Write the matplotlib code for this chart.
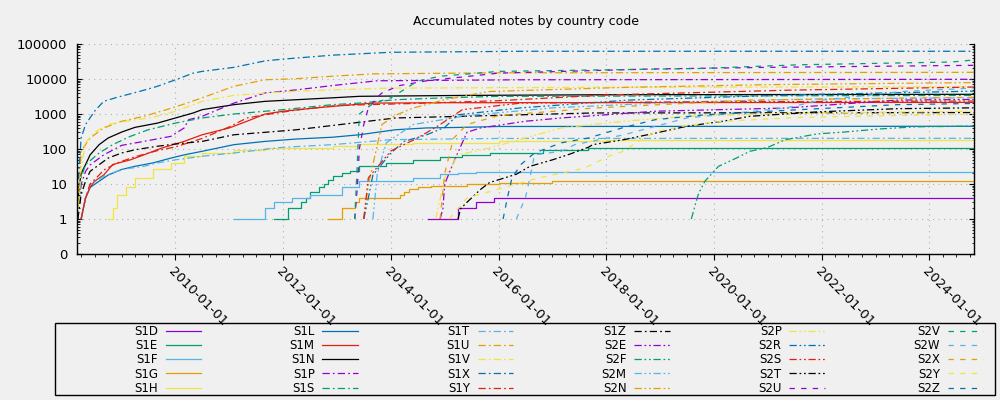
import matplotlib
matplotlib.use("Agg")
import matplotlib.pyplot as plt
import matplotlib.dates as mdates
from matplotlib.ticker import FixedLocator, LogLocator, NullFormatter
from matplotlib.patches import Rectangle
import pandas as pd

# accumulated notes, (date, total) at each step
S1D = [("2014-09-10", 1), ("2015-04", 2), ("2015-08", 3), ("2015-12", 4), ("2024-10-28", 4)]
S1E = [("2011-11", 1), ("2012-02", 2), ("2012-05", 3), ("2012-06", 4), ("2012-07", 6), ("2012-09", 8),
       ("2012-10", 10), ("2012-11", 13), ("2012-12", 17), ("2013-02", 20), ("2013-04", 23), ("2013-06", 32),
       ("2013-12", 40), ("2014-06", 49), ("2014-12", 58), ("2015-05", 68), ("2015-11", 77), ("2016-11", 95),
       ("2017-09", 104), ("2024-10-28", 104)]
S1F = [("2011-02", 1), ("2011-09", 2), ("2011-11", 3), ("2012-03", 4), ("2012-07", 5), ("2013-02", 8),
       ("2013-06", 12), ("2014-06", 15), ("2014-12", 19), ("2015-04", 21), ("2015-08", 22), ("2024-10-28", 22)]
S1G = [("2012-11", 1), ("2013-02", 2), ("2013-05", 3), ("2013-06", 4), ("2014-03", 5), ("2014-04", 6),
       ("2014-05", 7), ("2014-07", 8), ("2014-10", 9), ("2015-06", 10), ("2016-01", 11), ("2017-01", 12),
       ("2024-10-28", 12)]
S1H = [("2008-10", 1), ("2008-11", 2), ("2008-12", 5), ("2009-02", 8), ("2009-04", 15), ("2009-08", 26),
       ("2009-12", 40), ("2010-03", 62), ("2010-07", 77), ("2011-02", 95), ("2011-09", 107), ("2012-12", 120),
       ("2013-06", 135), ("2014-06", 150), ("2016-01", 165), ("2018-01", 177), ("2024-10-28", 177)]
S1L = [("2008-04", 1), ("2008-05", 4), ("2008-06", 8), ("2008-08", 12), ("2008-10", 18), ("2009-01", 26),
       ("2009-04", 32), ("2009-08", 40), ("2009-12", 55), ("2010-03", 68), ("2010-07", 86), ("2011-02", 133),
       ("2011-09", 165), ("2012-04", 193), ("2012-12", 217), ("2013-06", 255), ("2014-02", 355),
       ("2014-09", 400), ("2015-05", 415), ("2016-01", 440), ("2024-10-28", 446)]
S1M = [("2008-04", 1), ("2008-05", 4), ("2008-06", 8), ("2008-07", 12), ("2008-09", 18), ("2008-11", 36),
       ("2009-03", 49), ("2009-06", 68), ("2009-10", 107), ("2010-03", 165), ("2010-07", 255), ("2011-01", 400),
       ("2011-05", 620), ("2011-09", 1000), ("2012-01", 1200), ("2012-08", 1480), ("2012-12", 1650),
       ("2013-09", 2050), ("2015-01", 2100), ("2024-10-28", 2150)]
S1N = [("2008-03-05", 2), ("2008-03-20", 9), ("2008-04", 20), ("2008-05", 36), ("2008-06", 68), ("2008-08", 133),
       ("2008-10", 206), ("2009-01", 305), ("2009-04", 415), ("2009-09", 550), ("2010-01", 770), ("2010-05", 1070),
       ("2010-07", 1330), ("2011-02", 1850), ("2011-09", 2300), ("2012-04", 2560), ("2012-12", 2900),
       ("2013-06", 3200), ("2015-06", 3400), ("2018-01", 3550), ("2024-10-28", 3650)]
S1P = [("2008-03-10", 1), ("2008-04", 9.5), ("2008-05", 23), ("2008-06", 35), ("2008-09", 68), ("2009-01", 127),
       ("2009-06", 165), ("2009-12", 230), ("2010-03", 400), ("2010-04", 690), ("2010-07", 860), ("2011-02", 2050),
       ("2011-09", 4000), ("2012-04", 4900), ("2012-12", 6500), ("2013-10", 8900), ("2016-06", 9500),
       ("2024-10-28", 9800)]
S1S = [("2008-03-10", 1), ("2008-04", 15), ("2008-05", 36), ("2008-08", 77), ("2008-11", 133), ("2009-03", 230),
       ("2009-07", 355), ("2010-01", 550), ("2010-07", 770), ("2011-02", 1000), ("2012-01", 1330), ("2012-12", 1850),
       ("2013-06", 2050), ("2014-02", 2560), ("2015-01", 2900), ("2016-01", 3200), ("2024-10-28", 3400)]
S1T = [("2008-04", 1), ("2008-05", 4), ("2008-06", 9.5), ("2008-09", 16.6), ("2009-01", 26), ("2009-06", 32),
       ("2009-09", 40), ("2010-01", 49), ("2010-07", 62), ("2011-02", 77), ("2012-01", 112), ("2012-12", 133),
       ("2014-01", 185), ("2016-01", 200), ("2024-10-28", 202)]
S1U = [("2008-03-10", 2), ("2008-03-25", 23), ("2008-04", 88), ("2008-06", 206), ("2008-09", 400), ("2009-01", 620),
       ("2009-06", 860), ("2009-11", 1330), ("2010-03", 1930), ("2010-07", 2900), ("2011-02", 6200),
       ("2011-09", 9500), ("2012-04", 10200), ("2012-12", 12000), ("2013-09", 14000), ("2016-01", 15000),
       ("2024-10-28", 15500)]
S1V = [("2008-03-10", 1), ("2008-04", 30), ("2008-05", 150), ("2008-07", 300), ("2008-10", 500), ("2009-03", 650),
       ("2009-08", 800), ("2010-01", 1200), ("2010-07", 2300), ("2011-02", 3400), ("2012-01", 4300),
       ("2012-12", 4900), ("2014-01", 5500), ("2018-01", 5800), ("2024-10-28", 6000)]
S1X = [("2008-03-05", 5), ("2008-03-20", 36), ("2008-04", 206), ("2008-05", 500), ("2008-07", 1200),
       ("2008-09", 2300), ("2008-12", 3000), ("2009-05", 4400), ("2009-09", 6200), ("2010-01", 9500),
       ("2010-05", 14700), ("2010-07", 16500), ("2011-02", 21500), ("2011-09", 33000), ("2012-01", 37000),
       ("2012-12", 48000), ("2014-01", 58000), ("2016-07", 62000), ("2024-10-28", 62000)]
S1Y = [("2008-04", 1), ("2008-05", 4), ("2008-06", 10), ("2008-08", 18), ("2008-09", 25), ("2008-12", 40),
       ("2009-04", 60), ("2009-09", 90), ("2010-01", 115), ("2010-07", 200), ("2011-01", 430), ("2011-05", 770),
       ("2011-09", 950), ("2012-04", 1300), ("2013-01", 1750), ("2014-06", 2000), ("2016-01", 2400),
       ("2018-01", 3500), ("2021-06", 4800), ("2024-10-28", 5900)]
S1Z = [("2008-03-10", 1), ("2008-04", 5), ("2008-05", 12), ("2008-06", 23), ("2008-10", 55), ("2009-01", 77),
       ("2009-04", 95), ("2009-09", 120), ("2010-01", 139), ("2010-07", 165), ("2011-02", 255), ("2011-09", 300),
       ("2012-04", 355), ("2012-12", 470), ("2014-02", 770), ("2015-05", 860), ("2017-10", 1070),
       ("2024-10-28", 1100)]
S2E = [("2014-12", 1), ("2014-12-20", 2), ("2015-01", 10), ("2015-03", 40), ("2015-04", 80), ("2015-06", 300),
       ("2015-09", 400), ("2016-07", 620), ("2017-03", 770), ("2018-12", 1200), ("2021-05", 1480),
       ("2023-06", 2500), ("2024-10-28", 2600)]
S2F = [("2019-08", 1), ("2019-09", 3), ("2019-09-20", 5.5), ("2019-11", 12), ("2020-01", 23), ("2020-02", 32),
       ("2020-06", 55), ("2020-09", 86), ("2021-01", 112), ("2021-05", 185), ("2021-12", 270), ("2022-06", 305),
       ("2023-02", 375), ("2023-10", 430), ("2024-10-28", 450)]
S2M = [("2013-09", 1), ("2013-10", 20), ("2013-12", 150), ("2014-06", 500), ("2015-06", 900), ("2017-01", 1500),
       ("2019-06", 2200), ("2022-01", 2700), ("2024-10-28", 2900)]
S2N = [("2013-07", 1), ("2013-08", 9.5), ("2013-09", 36), ("2013-11", 500), ("2014-02", 920), ("2014-06", 1480),
       ("2015-01", 2560), ("2015-05", 3200), ("2015-11", 4400), ("2018-06", 5800), ("2021-01", 6900),
       ("2024-10-28", 7900)]
S2P = [("2014-11", 1), ("2015-01", 15), ("2015-04", 68), ("2015-11", 107), ("2016-07", 206), ("2017-03", 400),
       ("2018-05", 620), ("2019-07", 860), ("2021-06", 1050), ("2024-10-28", 1200)]
S2R = [("2013-07", 1), ("2013-08", 4), ("2013-09", 18), ("2014-01", 77), ("2014-04", 165), ("2014-09", 255),
       ("2015-01", 415), ("2015-04", 950), ("2016-06", 1500), ("2018-06", 2500), ("2021-06", 3500),
       ("2024-10-28", 4500)]
S2S = [("2013-07", 1), ("2013-08", 15), ("2014-01", 88), ("2014-07", 206), ("2014-12", 500), ("2015-05", 1330),
       ("2016-06", 2050), ("2019-01", 2200), ("2024-10-28", 2350)]
S2T = [("2015-04", 1), ("2015-04-20", 2), ("2015-06", 3), ("2015-09", 7), ("2015-11", 11), ("2016-05", 19),
       ("2016-08", 32), ("2017-01", 49), ("2017-05", 72), ("2017-09", 112), ("2017-10", 133), ("2018-05", 185),
       ("2018-12", 285), ("2019-07", 446), ("2020-03", 620), ("2020-09", 860), ("2021-12", 1150),
       ("2023-06", 1420), ("2024-10-28", 1500)]
S2U = [("2013-05", 1), ("2013-05-20", 10), ("2013-06", 100), ("2013-07", 500), ("2013-08", 1480),
       ("2013-10", 3000), ("2013-11", 4000), ("2014-03", 6500), ("2014-09", 8900), ("2016-01", 14700),
       ("2018-11", 19300), ("2021-01", 21500), ("2024-10-28", 24600)]
S2V = [("2013-05", 1), ("2013-05-15", 20), ("2013-06", 1000), ("2013-09", 2000), ("2014-01", 2900),
       ("2014-04", 5000), ("2014-07", 8700), ("2014-12", 12000), ("2016-01", 16500), ("2019-10", 20000),
       ("2021-08", 25500), ("2024-06", 30600), ("2024-10-28", 35000)]
S2W = [("2016-05", 1), ("2016-07", 4), ("2016-08", 15), ("2016-09", 68), ("2017-03", 86), ("2017-06", 133),
       ("2018-05", 255), ("2019-07", 770), ("2021-05", 1480), ("2022-01", 2500), ("2022-06", 2900),
       ("2023-07", 4400), ("2024-10-28", 5500)]
S2X = [("2014-12", 1), ("2015-01", 20), ("2015-03", 200), ("2015-06", 500), ("2016-01", 900), ("2017-11", 1500),
       ("2020-09", 2500), ("2024-10-28", 3000)]
S2Y = [("2015-02", 1), ("2015-06", 4), ("2016-10", 15), ("2017-08", 28), ("2017-10", 37), ("2018-02", 66),
       ("2018-05", 86), ("2018-07", 133), ("2018-12", 315), ("2019-07", 470), ("2020-03", 620), ("2021-08", 800),
       ("2024-10-28", 1000)]
S2Z = [("2016-02", 1), ("2016-03", 4), ("2016-04", 15), ("2016-06", 36), ("2016-09", 77), ("2017-03", 150),
       ("2017-09", 206), ("2018-05", 415), ("2018-12", 690), ("2019-11", 950), ("2021-08", 1330),
       ("2023-06", 1850), ("2024-10-28", 2000)]

names = ["S1D", "S1E", "S1F", "S1G", "S1H", "S1L", "S1M", "S1N", "S1P", "S1S", "S1T", "S1U", "S1V", "S1X", "S1Y",
         "S1Z", "S2E", "S2F", "S2M", "S2N", "S2P", "S2R", "S2S", "S2T", "S2U", "S2V", "S2W", "S2X", "S2Y", "S2Z"]
series = [S1D, S1E, S1F, S1G, S1H, S1L, S1M, S1N, S1P, S1S, S1T, S1U, S1V, S1X, S1Y,
          S1Z, S2E, S2F, S2M, S2N, S2P, S2R, S2S, S2T, S2U, S2V, S2W, S2X, S2Y, S2Z]

colors = ["#9400d3", "#009e73", "#56b4e9", "#e69f00", "#f0e442", "#0072b2", "#e51e10", "#000000"]
dashes = ["-", (0, (5.8, 2.5, 1.4, 2.5)), (0, (5.8, 2.2, 1.4, 2.2, 1.4, 2.2)), (0, (4.3, 5.0))]

bg = "#f0f0f0"
fig = plt.figure(figsize=(10, 4), dpi=100, facecolor=bg)
ax = fig.add_axes([0.077, 0.365, 0.897, 0.525], facecolor=bg)

handles = []
for i, (nm, s) in enumerate(zip(names, series)):
    d = pd.to_datetime([p[0] for p in s], format="mixed")
    v = [p[1] for p in s]
    # small counts: show the individual steps; big ones are sampled, so join the samples
    style = "steps-post" if v[-1] < 200 else "default"
    ln, = ax.plot(d, v, drawstyle=style, color=colors[i % 8], ls=dashes[i // 8], lw=0.9, label=nm)
    handles.append(ln)

ax.set_yscale("log")
ax.set_ylim(0.1, 100000)
ax.set_xlim(pd.Timestamp("2008-03-04"), pd.Timestamp("2024-10-30"))
yt = [0.1, 1, 10, 100, 1000, 10000, 100000]
ax.yaxis.set_major_locator(FixedLocator(yt))
ax.set_yticklabels(["0", "1", "10", "100", "1000", "10000", "100000"])
ax.yaxis.set_minor_locator(LogLocator(base=10, subs=range(2, 10), numticks=20))
ax.yaxis.set_minor_formatter(NullFormatter())

ax.xaxis.set_major_locator(mdates.YearLocator(2))
ax.xaxis.set_major_formatter(mdates.DateFormatter("%Y-%m-%d"))
ax.xaxis.set_minor_locator(mdates.MonthLocator(bymonth=(1, 4, 7, 10)))

ax.tick_params(axis="y", which="both", direction="in", left=True, right=True, labelsize=9.5, pad=7)
ax.tick_params(axis="y", which="major", length=3.6, width=0.8)
ax.tick_params(axis="y", which="minor", length=1.8, width=0.6)
ax.tick_params(axis="x", which="major", direction="out", length=4, width=0.8, labelsize=9.5, pad=4)
ax.tick_params(axis="x", which="minor", direction="out", length=2.4, width=0.6)
for lab in ax.get_xticklabels():
    lab.set_rotation(-45)
    lab.set_ha("left")
    lab.set_va("top")
    lab.set_rotation_mode("anchor")

ax.spines["top"].set_visible(False)
for sp in ["left", "right", "bottom"]:
    ax.spines[sp].set_linewidth(1.0)
ax.grid(True, which="major", color="#b0b0b0", ls=(0, (1, 4)), lw=0.8)

fig.text(0.526, 1 - 22 / 400, "Accumulated notes by country code", ha="center", va="center", fontsize=9)

fig.patches.append(Rectangle((0.055, 0.0125), 0.94, 0.18, fill=False, ec="black", lw=1.0,
                             transform=fig.transFigure, figure=fig))
fig.legend(handles, names, ncol=6, loc="upper left", bbox_to_anchor=(0.134, 0.0, 0.849, 0.1875),
           mode="expand", frameon=False, markerfirst=False, fontsize=8.5, handlelength=3.0,
           handletextpad=0.65, labelspacing=0.1, borderpad=0, borderaxespad=0)

fig.savefig("out.png", dpi=100, facecolor=bg)
